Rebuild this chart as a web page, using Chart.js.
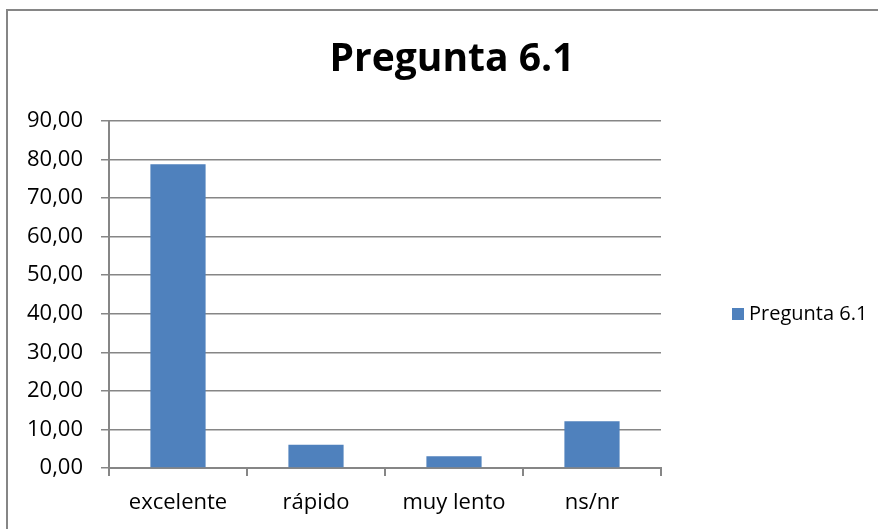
<!DOCTYPE html>
<html>
<head>
<meta charset="utf-8">
<script src="https://cdn.jsdelivr.net/npm/chart.js@4"></script>
<style>
  html, body { margin: 0; padding: 0; background: #fff; }
  #wrap { width: 878px; height: 529px; }
</style>
</head>
<body>
<div id="wrap"><canvas id="chart" width="878" height="529"></canvas></div>
<script>
// chart data
var categories = ['excelente', 'rápido', 'muy lento', 'ns/nr'];
var values = [78.79, 6.06, 3.03, 12.12];
var seriesName = 'Pregunta 6.1';
var chartTitle = 'Pregunta 6.1';
var yMin = 0, yMax = 90, yStep = 10;

var gridColor = '#868686';
var barColor = '#4F81BD';

// outer frame, title and legend
var framePlugin = {
    id: 'frame',
    afterDraw(chart) {
        var ctx = chart.ctx;
        ctx.save();
        ctx.strokeStyle = gridColor;
        ctx.lineWidth = 2;
        ctx.strokeRect(7, 10, 900, 600);

        // title, centered on the whole frame
        ctx.fillStyle = '#000';
        ctx.font = 'bold 39px "Open Sans"';
        ctx.textAlign = 'center';
        ctx.textBaseline = 'alphabetic';
        ctx.fillText(chartTitle, 452, 71);

        // legend
        var ds = chart.data.datasets[0];
        ctx.fillStyle = ds.backgroundColor;
        ctx.fillRect(732, 308, 12, 12);
        ctx.fillStyle = '#000';
        ctx.font = '20px "Open Sans"';
        ctx.textBaseline = 'middle';
        ctx.textAlign = 'left';
        ctx.fillText(ds.label, 749, 314);
        ctx.restore();
    }
};

var ctx = document.getElementById('chart').getContext('2d');
var myChart = new Chart(ctx, {
    type: 'bar',
    data: {
        labels: categories,
        datasets: [{
            label: seriesName,
            data: values,
            backgroundColor: barColor,
            barPercentage: 0.4,
            categoryPercentage: 1
        }]
    },
    options: {
        responsive: false,
        animation: false,
        layout: { padding: { left: 0, right: 217, top: 121, bottom: 0 } },
        plugins: {
            legend: { display: false },
            tooltip: { enabled: false },
            title: { display: false }
        },
        scales: {
            x: {
                grid: { drawOnChartArea: false, drawTicks: true, tickLength: 8, color: gridColor, lineWidth: 2 },
                border: { color: gridColor, width: 2 },
                ticks: { color: '#000', font: { family: 'Open Sans', size: 22 }, padding: 14, maxRotation: 0 },
                afterFit(scale) { scale.height = 61; }
            },
            y: {
                min: yMin,
                max: yMax,
                grid: { color: gridColor, lineWidth: 1.5, tickLength: 8 },
                border: { color: gridColor, width: 2 },
                ticks: {
                    stepSize: yStep,
                    color: '#000',
                    font: { family: 'Open Sans', size: 22 },
                    padding: 18,
                    callback: function (v) { return v.toFixed(2).replace('.', ','); }
                },
                afterFit(scale) { scale.width = 109; }
            }
        }
    },
    plugins: [framePlugin]
});
</script>
</body>
</html>
